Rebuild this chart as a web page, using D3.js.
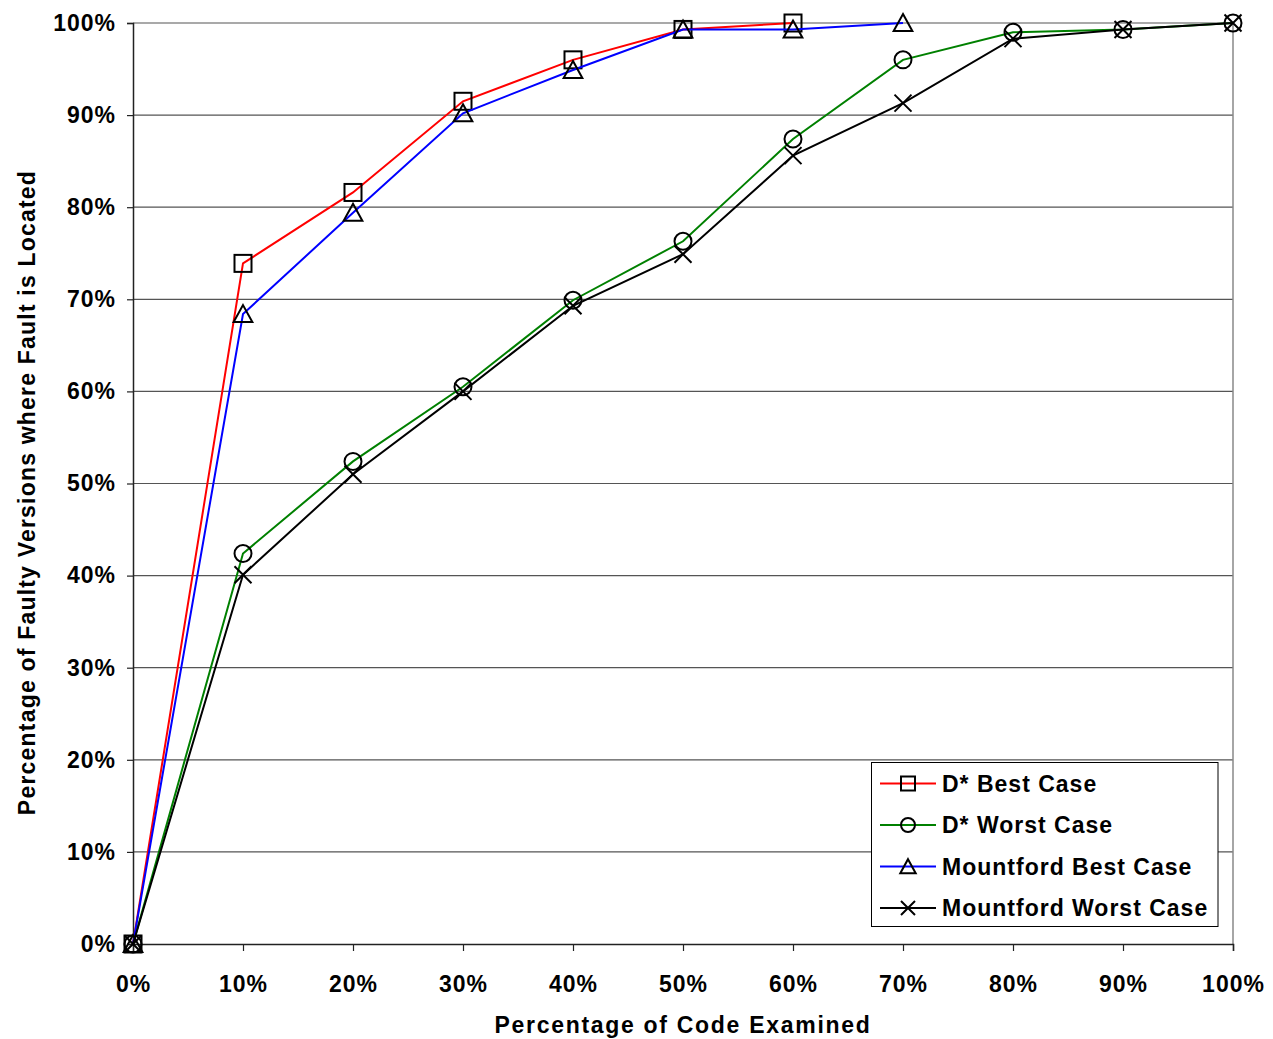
<!DOCTYPE html>
<html>
<head>
<meta charset="utf-8">
<script src="https://cdn.jsdelivr.net/npm/d3@7"></script>
<style>
  html, body { margin: 0; padding: 0; background: #fff; }
  text { font-family: "Liberation Sans", Arial, sans-serif; font-weight: bold; }
</style>
</head>
<body>
<svg id="chart" width="1273" height="1039"></svg>
<script>
// ---- data ----
const xValues = [0, 10, 20, 30, 40, 50, 60, 70, 80, 90, 100];
const dStarBest = [0, 73.9, 81.6, 91.5, 96.0, 99.3, 100];
const dStarWorst = [0, 42.4, 52.4, 60.5, 69.9, 76.3, 87.4, 96.0, 99.0, 99.3, 100];
const mountfordBest = [0, 68.4, 79.4, 90.2, 94.9, 99.3, 99.3, 100];
const mountfordWorst = [0, 40.1, 51.0, 60.0, 69.3, 74.9, 85.6, 91.3, 98.3, 99.3, 100];
const seriesNames = ["D* Best Case", "D* Worst Case", "Mountford Best Case", "Mountford Worst Case"];
const yTicks = [0, 10, 20, 30, 40, 50, 60, 70, 80, 90, 100];
const xTitle = "Percentage of Code Examined";
const yTitle = "Percentage of Faulty Versions where Fault is Located";

(function () {
const seriesValues = [dStarBest, dStarWorst, mountfordBest, mountfordWorst];
const colors = ["#ff0000", "#008000", "#0000ff", "#000000"];
const markers = ["square", "circle", "triangle", "cross"];

const svg = d3.select("#chart");
const pLeft = 133, pRight = 1233, pTop = 23, pBottom = 944;
const x = d3.scaleLinear().domain([0, 100]).range([pLeft, pRight]);
const y = d3.scaleLinear().domain([0, 100]).range([pBottom, pTop]);

// gridlines
svg.append("g").selectAll("line").data(yTicks.filter(d => d > 0)).join("line")
  .attr("x1", pLeft).attr("x2", pRight)
  .attr("y1", d => y(d)).attr("y2", d => y(d))
  .attr("stroke", "#555").attr("stroke-width", 1.2);

// right border
svg.append("line").attr("x1", pRight).attr("x2", pRight).attr("y1", pTop).attr("y2", pBottom)
  .attr("stroke", "#888").attr("stroke-width", 1.5);

// axes
const yAxis = svg.append("g").attr("transform", `translate(${pLeft},0)`)
  .call(d3.axisLeft(y).tickValues(yTicks).tickFormat(d => d + "%").tickSize(6).tickPadding(11));
const xAxis = svg.append("g").attr("transform", `translate(0,${pBottom})`)
  .call(d3.axisBottom(x).tickValues(xValues).tickFormat(d => d + "%").tickSize(7).tickPadding(25));
[yAxis, xAxis].forEach(a => {
  a.select(".domain").attr("stroke", "#222").attr("stroke-width", 1.5);
  a.selectAll(".tick line").attr("stroke", "#222").attr("stroke-width", 1.2);
  a.selectAll("text").attr("fill", "#000")
    .style("font-size", "23px").style("font-family", "'Liberation Sans', Arial, sans-serif")
    .style("font-weight", "bold").style("letter-spacing", "1px");
});

// marker drawing
function drawMarker(g, type, cx, cy, s) {
  const h = s / 2;
  if (type === "square") {
    g.append("rect").attr("x", cx - h).attr("y", cy - h).attr("width", s).attr("height", s)
      .attr("fill", "none").attr("stroke", "#000").attr("stroke-width", 2);
  } else if (type === "circle") {
    g.append("circle").attr("cx", cx).attr("cy", cy).attr("r", h)
      .attr("fill", "none").attr("stroke", "#000").attr("stroke-width", 2);
  } else if (type === "triangle") {
    const w = s * 1.1;
    g.append("path").attr("d", `M${cx},${cy - h * 1.05}L${cx + w / 2},${cy + h * 0.95}L${cx - w / 2},${cy + h * 0.95}Z`)
      .attr("fill", "none").attr("stroke", "#000").attr("stroke-width", 2);
  } else {
    g.append("path").attr("d", `M${cx - h},${cy - h}L${cx + h},${cy + h}M${cx - h},${cy + h}L${cx + h},${cy - h}`)
      .attr("fill", "none").attr("stroke", "#000").attr("stroke-width", 2);
  }
}

const line = d3.line().x((d, i) => x(xValues[i])).y(d => y(d));
seriesValues.forEach((vals, si) => {
  const g = svg.append("g");
  g.append("path").datum(vals).attr("d", line)
    .attr("fill", "none").attr("stroke", colors[si]).attr("stroke-width", 2);
  vals.forEach((v, i) => drawMarker(g, markers[si], x(xValues[i]), y(v), 17));
});

// axis titles
svg.append("text").attr("x", (pLeft + pRight) / 2).attr("y", 1033)
  .attr("text-anchor", "middle").style("font-size", "23px").style("letter-spacing", "1.7px")
  .text(xTitle);
svg.append("text").attr("transform", `translate(35,${(pTop + pBottom) / 2 + 9}) rotate(-90)`)
  .attr("text-anchor", "middle").style("font-size", "23px").style("letter-spacing", "1.2px")
  .text(yTitle);

// legend
const lg = svg.append("g");
lg.append("rect").attr("x", 871.5).attr("y", 762.5).attr("width", 346.5).attr("height", 164)
  .attr("fill", "#fff").attr("stroke", "#000").attr("stroke-width", 1);
const legendRows = [783.5, 825, 866.5, 908];
seriesNames.forEach((name, i) => {
  const cy = legendRows[i];
  lg.append("line").attr("x1", 880).attr("x2", 936).attr("y1", cy).attr("y2", cy)
    .attr("stroke", colors[i]).attr("stroke-width", 2);
  drawMarker(lg, markers[i], 908, cy, 14);
  lg.append("text").attr("x", 942).attr("y", cy).attr("dy", "0.36em")
    .style("font-size", "23px").style("letter-spacing", "1px").text(name);
});
})();
</script>
</body>
</html>
